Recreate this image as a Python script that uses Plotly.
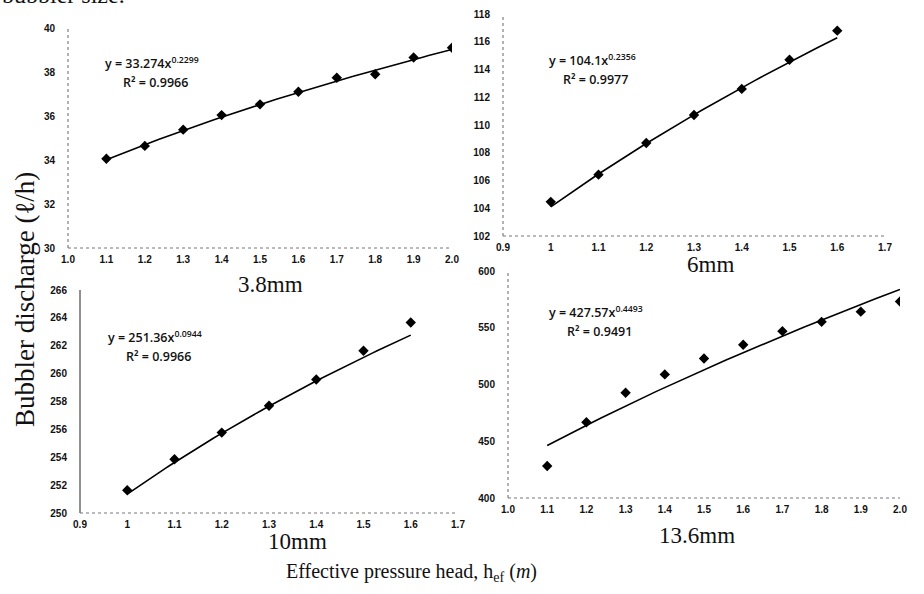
import numpy as np
import plotly.graph_objects as go

# ---- data ----
x_38 = [1.1, 1.2, 1.3, 1.4, 1.5, 1.6, 1.7, 1.8, 1.9, 2.0]
q_38 = [34.06, 34.64, 35.38, 36.04, 36.53, 37.10, 37.74, 37.90, 38.66, 39.10]

x_6 = [1.0, 1.1, 1.2, 1.3, 1.4, 1.5, 1.6]
q_6 = [104.46, 106.42, 108.70, 110.72, 112.60, 114.70, 116.80]

x_10 = [1.0, 1.1, 1.2, 1.3, 1.4, 1.5, 1.6]
q_10 = [251.63, 253.86, 255.77, 257.69, 259.58, 261.64, 263.67]

x_136 = [1.1, 1.2, 1.3, 1.4, 1.5, 1.6, 1.7, 1.8, 1.9, 2.0]
q_136 = [428.2, 466.7, 492.7, 508.9, 522.9, 535.0, 547.0, 555.2, 564.2, 573.1]

# power trendline coefficients y = a * x^b (as printed on chart)
fit_a = [33.274, 104.1, 251.36, 427.57]
fit_b = [0.2299, 0.2356, 0.0944, 0.4493]
fit_r2 = ["0.9966", "0.9977", "0.9966", "0.9491"]
fit_a_txt = ["33.274", "104.1", "251.36", "427.57"]
fit_b_txt = ["0.2299", "0.2356", "0.0944", "0.4493"]

panel_titles = ["3.8mm", "6mm", "10mm", "13.6mm"]

# ---- layout geometry (pixels) ----
W, H = 924, 594
def fx(px):
    return px / W
def fy(py):
    return 1 - py / H

panels = [
    dict(x=x_38, y=q_38, xr=[1.0, 2.0], yr=[30, 40], dy=2, xfmt=".1f",
         xpx=(68, 452), ypx=(248, 28), tick0=1.0),
    dict(x=x_6, y=q_6, xr=[0.9, 1.7], yr=[102, 118], dy=2, xfmt="",
         xpx=(503, 885), ypx=(236, 14), tick0=0.9),
    dict(x=x_10, y=q_10, xr=[0.9, 1.7], yr=[250, 266], dy=2, xfmt="",
         xpx=(80, 458), ypx=(513, 290), tick0=0.9),
    dict(x=x_136, y=q_136, xr=[1.0, 2.0], yr=[400, 600], dy=50, xfmt=".1f",
         xpx=(508, 900), ypx=(498, 271), tick0=1.0),
]

# positions of equation text and panel titles (pixels)
eq_pos = [(152, 63), (592, 60), (155, 337), (596, 312)]
title_pos = [(270, 284), (710, 264), (297, 541), (697, 535)]

fig = go.Figure()
tickfont = dict(family="Liberation Sans", size=10, color="#111", weight="bold")
eqfont = dict(family="Open Sans", size=12.5, color="#111", weight=600)

shapes = []
for i, p in enumerate(panels):
    n = "" if i == 0 else str(i + 1)
    xa, ya = "x" + n, "y" + n
    xs = np.linspace(min(p["x"]), max(p["x"]), 60)
    ys = fit_a[i] * xs ** fit_b[i]
    fig.add_trace(go.Scatter(x=xs, y=ys, mode="lines",
                             line=dict(color="black", width=1.6),
                             xaxis=xa, yaxis=ya, showlegend=False,
                             hoverinfo="skip"))
    fig.add_trace(go.Scatter(x=p["x"], y=p["y"], mode="markers",
                             marker=dict(symbol="diamond", size=8, color="black"),
                             xaxis=xa, yaxis=ya, showlegend=False))
    fig.layout["xaxis" + n] = dict(
        domain=[fx(p["xpx"][0]), fx(p["xpx"][1])], range=p["xr"],
        anchor=ya, showgrid=False, zeroline=False, showline=False,
        ticks="", dtick=0.1, tick0=p["tick0"],
        tickformat=p["xfmt"], tickfont=tickfont, ticklabelstandoff=4)
    fig.layout["yaxis" + n] = dict(
        domain=[fy(p["ypx"][0]), fy(p["ypx"][1])], range=p["yr"],
        anchor=xa, showgrid=False, zeroline=False, showline=False,
        ticks="", dtick=p["dy"],
        tickfont=tickfont, ticklabelstandoff=12)
    ycol = "#222" if i == 2 else "#666"
    ydash = "solid" if i == 2 else "dot"
    shapes.append(dict(type="line", xref=xa + " domain", yref=ya + " domain",
                       x0=0, x1=0, y0=0, y1=1,
                       line=dict(color=ycol, width=1, dash=ydash)))
    shapes.append(dict(type="line", xref=xa + " domain", yref=ya + " domain",
                       x0=0, x1=1, y0=0, y1=0,
                       line=dict(color="#777", width=1, dash="dot")))

annotations = []
for i in range(4):
    ex, ey = eq_pos[i]
    annotations.append(dict(
        x=fx(ex), y=fy(ey), xref="paper", yref="paper", showarrow=False,
        xanchor="center", yanchor="middle",
        text=f"y = {fit_a_txt[i]}x<sup>{fit_b_txt[i]}</sup>", font=eqfont))
    annotations.append(dict(
        x=fx(ex + 3), y=fy(ey + 19), xref="paper", yref="paper", showarrow=False,
        xanchor="center", yanchor="middle",
        text=f"R² = {fit_r2[i]}", font=eqfont))
    tx, ty = title_pos[i]
    annotations.append(dict(
        x=fx(tx), y=fy(ty), xref="paper", yref="paper", showarrow=False,
        xanchor="center", yanchor="middle", text=panel_titles[i],
        font=dict(family="Liberation Serif", size=23, color="#111")))

annotations.append(dict(
    x=fx(25), y=fy(300), xref="paper", yref="paper", showarrow=False,
    xanchor="center", yanchor="middle", textangle=-90,
    text="Bubbler discharge (ℓ/h)",
    font=dict(family="Liberation Serif", size=27, color="#111")))
annotations.append(dict(
    x=fx(411), y=fy(572), xref="paper", yref="paper", showarrow=False,
    xanchor="center", yanchor="middle",
    text="Effective pressure head, h<sub>ef</sub> (<i>m</i>)",
    font=dict(family="Liberation Serif", size=20, color="#111")))
annotations.append(dict(
    x=fx(0), y=fy(-5), xref="paper", yref="paper", showarrow=False,
    xanchor="left", yanchor="middle", text="bubbler size.",
    font=dict(family="Liberation Serif", size=24, color="#111")))

fig.update_layout(
    width=W, height=H, margin=dict(l=0, r=0, t=0, b=0, autoexpand=False),
    paper_bgcolor="white", plot_bgcolor="white",
    annotations=annotations, shapes=shapes, showlegend=False)

fig.write_html("out.html", config={"displayModeBar": False},
               post_script="document.body.style.margin='0';document.body.style.overflow='hidden';")
